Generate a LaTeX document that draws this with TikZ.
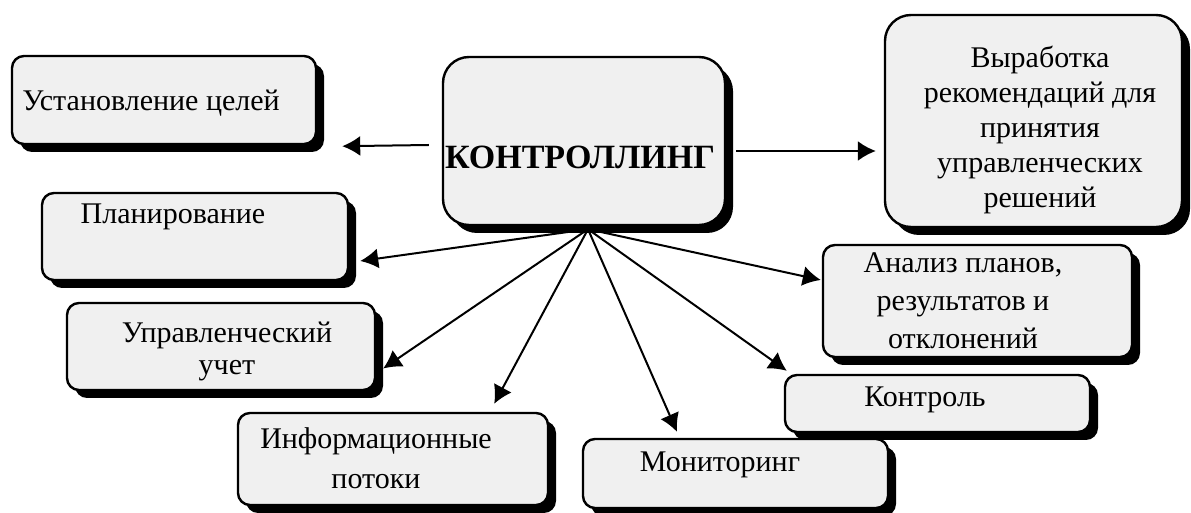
\documentclass[tikz,border=0pt]{standalone}
\usepackage{fontspec}
\setmainfont{Liberation Serif}[Ligatures=TeX]
\usetikzlibrary{arrows.meta,shadows}
\definecolor{boxgray}{HTML}{F0F0F0}

\begin{document}
\begin{tikzpicture}[
        x=0.5pt, y=-0.5pt,
        >={Latex[length=9pt,width=10pt]},
        line width=1pt,
        box/.style={draw, line width=1.2pt, fill=boxgray, rounded corners=6pt, inner sep=0pt,
            drop shadow={shadow xshift=4pt, shadow yshift=-4pt, fill=black, opacity=1}},
        bigbox/.style={box, rounded corners=13pt},
        txt/.style={font=\rmfamily\fontsize{15}{17.5}\selectfont, align=center, inner sep=0pt}
        ]
            \useasboundingbox (0,0) rectangle (1191,513);

            % Centre
            \node[bigbox, minimum width=141pt, minimum height=84pt] (ctrl) at (584,141) {};
            \node[txt, font=\rmfamily\fontsize{17}{19}\selectfont\bfseries] (ctrltext) at (580,157) {КОНТРОЛЛИНГ};

            % Top row
            \node[box, minimum width=152pt, minimum height=44pt] (goal) at (164,100) {};
            \node[txt] (goaltext) at (151,103) {Установление целей};
            \node[bigbox, minimum width=148.5pt, minimum height=106pt] (recom) at (1033.5,121) {};
            \node[txt] (recomtext) at (1040,130) {Выработка\\рекомендаций для\\принятия\\управленческих\\решений};

            % Left side
            \node[box, minimum width=153pt, minimum height=43.5pt] (plan) at (195,236.5) {};
            \node[txt] (plantext) at (173,217) {Планирование};
            \node[box, minimum width=154pt, minimum height=43.5pt] (acct) at (221,346.5) {};
            \node[txt, font=\rmfamily\fontsize{15}{16}\selectfont] (accttext) at (227,351) {Управленческий\\учет};

            % Bottom
            \node[box, minimum width=155pt, minimum height=46pt] (info) at (393,459) {};
            \node[txt, font=\rmfamily\fontsize{15}{20}\selectfont] (infotext) at (376,458) {Информационные\\потоки};
            \node[box, minimum width=152.5pt, minimum height=34.5pt] (monitor) at (735.5,473.5) {};
            \node[txt] (monitortext) at (720,465) {Мониторинг};

            % Right side
            \node[box, minimum width=154.5pt, minimum height=56pt] (anal) at (977.5,301) {};
            \node[txt, font=\rmfamily\fontsize{15}{19}\selectfont] (analtext) at (963,301) {Анализ планов,\\результатов и\\отклонений};
            \node[box, minimum width=152.5pt, minimum height=28.5pt] (check) at (937.5,403.5) {};
            \node[txt] (checktext) at (925,400) {Контроль};

            % Arrows
            \draw[->] ([shift={(-6.5pt,-2pt)}]ctrl.west) -- ([shift={(12.5pt,-0.5pt)}]goal.south east);
            \draw[->] ([shift={(5pt,-5pt)}]ctrl.east) -- ([shift={(-4pt,-15pt)}]recom.west);
            \coordinate (hub) at ([xshift=2pt,yshift=-1.5pt]ctrl.south);
            \draw[->] (hub) -- ([shift={(5.5pt,-12.25pt)}]plan.east);
            \draw[->] (hub) -- ([shift={(3.5pt,-11pt)}]acct.east);
            \draw[->] (hub) -- ([shift={(-27.5pt,4pt)}]info.north east);
            \draw[->] (hub) -- ([shift={(-29.25pt,3pt)}]monitor.north);
            \draw[->] (hub) -- ([shift={(1.5pt,1.5pt)}]check.north west);
            \draw[->] (hub) -- ([shift={(-0.5pt,10.5pt)}]anal.west);
        \end{tikzpicture}
\end{document}
